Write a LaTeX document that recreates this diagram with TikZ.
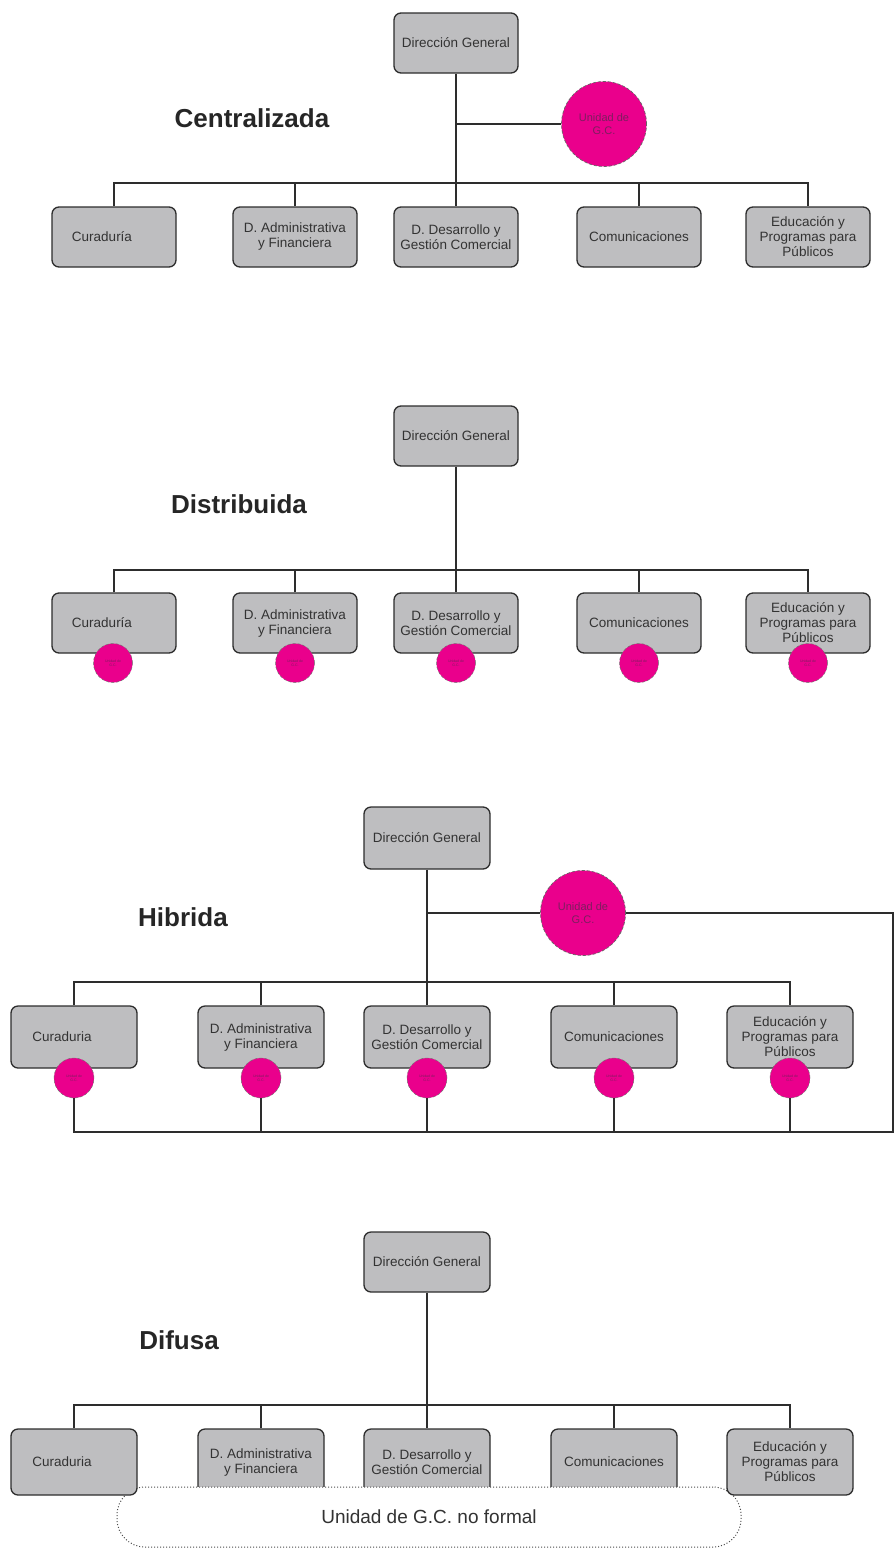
\documentclass[tikz,border=0pt]{standalone}
\usepackage{fontspec}
\setmainfont{Liberation Sans}
\definecolor{boxgray}{RGB}{190,190,192}
\definecolor{linegray}{RGB}{45,45,45}
\definecolor{mag}{RGB}{234,0,140}
\definecolor{magtext}{RGB}{125,30,95}
\tikzset{
  unit/.style={draw=linegray, line width=1.3pt, fill=boxgray, rounded corners=7pt,
    minimum width=124pt, minimum height=60pt, align=center, inner sep=1pt,
    font=\fontsize{13.5}{15}\selectfont, text=black!80},
  wideunit/.style={unit, minimum width=126pt, minimum height=62pt},
  conn/.style={draw=linegray, line width=1.3pt},
  bigunit/.style={circle, fill=mag, draw=black!60, densely dashed, line width=0.7pt,
    minimum size=85pt, inner sep=0pt, align=center,
    font=\fontsize{11}{12.5}\selectfont, text=magtext},
  smallunit/.style={circle, fill=mag, draw=black!55, densely dashed, line width=0.5pt,
    minimum size=39pt, inner sep=0pt, align=center,
    font=\fontsize{3.5}{4}\selectfont, text=magtext},
  sectiontitle/.style={font=\fontsize{26}{30}\selectfont\bfseries, text=black!85},
  informal/.style={draw=black!70, dotted, line width=1pt, fill=white, rounded corners=28pt,
    minimum width=624pt, minimum height=60pt, font=\fontsize{19}{22}\selectfont, text=black!80},
}
\begin{document}
\begin{tikzpicture}[x=1pt, y=-1pt]
\path[use as bounding box, fill=white] (0,0) rectangle (894,1548);

% ---------------- Centralizada ----------------
\node[unit] (dg1) at (456,43) {Dirección General};
\node[sectiontitle] (t1) at (252,118) {Centralizada};
\node[bigunit] (u1) at (604,124) {Unidad de\\G.C.};
\coordinate (b1) at (456,183);
\node[unit] (c11) at (114,237) {Curaduría\hspace*{24pt}};
\node[unit] (c12) at (295,237) {D. Administrativa\\y Financiera};
\node[unit] (c13) at (456,237) {D. Desarrollo y\\Gestión Comercial};
\node[unit] (c14) at (639,237) {Comunicaciones};
\node[unit] (c15) at (808,237) {Educación y\\Programas para\\Públicos};
\draw[conn] (dg1.south) -- (c13.north);
\draw[conn] (dg1.south |- u1) -- (u1);
\draw[conn] (c11.north) |- (b1) -| (c15.north);
\draw[conn] (c12.north) -- (c12.north |- b1);
\draw[conn] (c14.north) -- (c14.north |- b1);

% ---------------- Distribuida ----------------
\node[unit] (dg2) at (456,436) {Dirección General};
\node[sectiontitle] (t2) at (239,504) {Distribuida};
\coordinate (b2) at (456,570);
\node[unit] (c21) at (114,623) {Curaduría\hspace*{24pt}};
\node[unit] (c22) at (295,623) {D. Administrativa\\y Financiera};
\node[unit] (c23) at (456,623) {D. Desarrollo y\\Gestión Comercial};
\node[unit] (c24) at (639,623) {Comunicaciones};
\node[unit] (c25) at (808,623) {Educación y\\Programas para\\Públicos};
\draw[conn] (dg2.south) -- (c23.north);
\draw[conn] (c21.north) |- (b2) -| (c25.north);
\draw[conn] (c22.north) -- (c22.north |- b2);
\draw[conn] (c24.north) -- (c24.north |- b2);
\node[smallunit] (s21) at (113,663) {Unidad de\\G.C.};
\node[smallunit] (s22) at (295,663) {Unidad de\\G.C.};
\node[smallunit] (s23) at (456,663) {Unidad de\\G.C.};
\node[smallunit] (s24) at (639,663) {Unidad de\\G.C.};
\node[smallunit] (s25) at (808,663) {Unidad de\\G.C.};

% ---------------- Hibrida ----------------
\node[wideunit] (dg3) at (427,838) {Dirección General};
\node[sectiontitle] (t3) at (183,917) {Hibrida};
\node[bigunit] (u3) at (583,913) {Unidad de\\G.C.};
\coordinate (b3) at (427,982);
\coordinate (rc3) at (893,913);
\coordinate (bb3) at (893,1132);
\node[wideunit] (c31) at (74,1037) {Curaduria\hspace*{24pt}};
\node[wideunit] (c32) at (261,1037) {D. Administrativa\\y Financiera};
\node[wideunit] (c33) at (427,1037) {D. Desarrollo y\\Gestión Comercial};
\node[wideunit] (c34) at (614,1037) {Comunicaciones};
\node[wideunit] (c35) at (790,1037) {Educación y\\Programas para\\Públicos};
\draw[conn] (dg3.south) -- (c33.north);
\draw[conn] (dg3.south |- u3) -- (u3);
\draw[conn] (c31.north) |- (b3) -| (c35.north);
\draw[conn] (c32.north) -- (c32.north |- b3);
\draw[conn] (c34.north) -- (c34.north |- b3);
\node[smallunit, minimum size=40pt] (s31) at (74,1078) {Unidad de\\G.C.};
\node[smallunit, minimum size=40pt] (s32) at (261,1078) {Unidad de\\G.C.};
\node[smallunit, minimum size=40pt] (s33) at (427,1078) {Unidad de\\G.C.};
\node[smallunit, minimum size=40pt] (s34) at (614,1078) {Unidad de\\G.C.};
\node[smallunit, minimum size=40pt] (s35) at (790,1078) {Unidad de\\G.C.};
\draw[conn] (u3) -- (rc3) -- (bb3) -- (s31.south |- bb3) -- (s31.south);
\draw[conn] (s32.south) -- (s32.south |- bb3);
\draw[conn] (s33.south) -- (s33.south |- bb3);
\draw[conn] (s34.south) -- (s34.south |- bb3);
\draw[conn] (s35.south) -- (s35.south |- bb3);

% ---------------- Difusa ----------------
\node[wideunit, minimum height=60pt] (dg4) at (427,1262) {Dirección General};
\node[sectiontitle] (t4) at (179,1340) {Difusa};
\coordinate (b4) at (427,1405);
\node[wideunit, minimum height=66pt] (c42) at (261,1462) {D. Administrativa\\y Financiera};
\node[wideunit, minimum height=66pt] (c43) at (427,1462) {D. Desarrollo y\\Gestión Comercial};
\node[wideunit, minimum height=66pt] (c44) at (614,1462) {Comunicaciones};
\node[informal] (nf) at (429,1517) {Unidad de G.C. no formal};
\node[wideunit, minimum height=66pt] (c41) at (74,1462) {Curaduria\hspace*{24pt}};
\node[wideunit, minimum height=66pt] (c45) at (790,1462) {Educación y\\Programas para\\Públicos};
\draw[conn] (dg4.south) -- (c43.north);
\draw[conn] (c41.north) |- (b4) -| (c45.north);
\draw[conn] (c42.north) -- (c42.north |- b4);
\draw[conn] (c44.north) -- (c44.north |- b4);
\end{tikzpicture}
\end{document}
